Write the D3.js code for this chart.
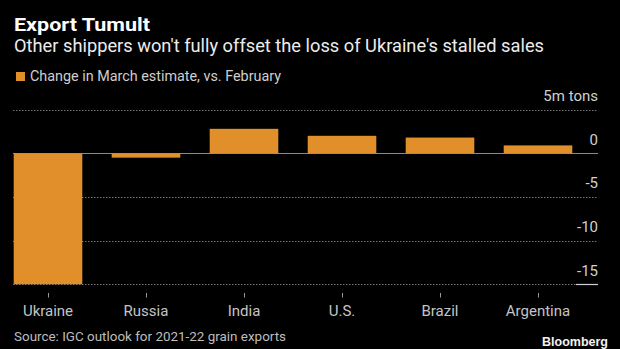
<!DOCTYPE html>
<html>
<head>
<meta charset="utf-8">
<script src="https://cdn.jsdelivr.net/npm/d3@7"></script>
<style>
  html, body { margin: 0; padding: 0; background: #000; }
  svg { display: block; font-family: Roboto, "Noto Sans", sans-serif; }
</style>
</head>
<body>
<div id="chart"></div>
<script>
let w = 620;
let h = 349;

// IGC grain export change, March estimate vs. February (million tons)
const countries = ['Ukraine', 'Russia', 'India', 'U.S.', 'Brazil', 'Argentina'];
const changes = [-15, -0.5, 2.8, 2.0, 1.8, 0.9];
const yTicks = [5, 0, -5, -10, -15];
const yTickLabels = ['5m tons', '0', '-5', '-10', '-15'];

const barColor = '#e08f2b';

let svg = d3.select('#chart')
    .append('svg')
    .attr('width', w)
    .attr('height', h);

svg.append('rect')
    .attr('width', w)
    .attr('height', h)
    .attr('fill', '#000');

// header
svg.append('text')
    .attr('x', 14)
    .attr('y', 31)
    .attr('fill', '#fff')
    .style('font-size', '18px')
    .style('font-weight', 'bold')
    .attr('textLength', 136)
    .attr('lengthAdjust', 'spacingAndGlyphs')
    .text('Export Tumult');

svg.append('text')
    .attr('x', 14)
    .attr('y', 52)
    .attr('fill', '#ececec')
    .style('font-size', '18px')
    .attr('textLength', 530)
    .attr('lengthAdjust', 'spacingAndGlyphs')
    .text("Other shippers won't fully offset the loss of Ukraine's stalled sales");

// legend
svg.append('rect')
    .attr('x', 16)
    .attr('y', 72)
    .attr('width', 9)
    .attr('height', 9)
    .attr('fill', barColor);

svg.append('text')
    .attr('x', 30)
    .attr('y', 81)
    .attr('fill', '#cfcfcf')
    .style('font-size', '14px')
    .attr('textLength', 251)
    .attr('lengthAdjust', 'spacingAndGlyphs')
    .text('Change in March estimate, vs. February');

let xScale = d3.scaleBand()
    .domain(countries)
    .range([-1, 587])
    .paddingInner(0.3)
    .paddingOuter(0.15);

let yScale = d3.scaleLinear()
    .domain([-15, 5])
    .range([284.3, 109.6]);

const gridLeft = 13;
const gridRight = 598;
const crisp = v => Math.round(v) + 0.5;

// gridlines
let grid = svg.append('g');
yTicks.forEach(t => {
    grid.append('line')
        .attr('x1', gridLeft)
        .attr('x2', gridRight)
        .attr('y1', crisp(yScale(t)))
        .attr('y2', crisp(yScale(t)))
        .attr('stroke', t === 0 ? '#8a8a8a' : '#777')
        .attr('stroke-width', 1)
        .attr('stroke-dasharray', t === 0 ? null : '1.5,1.5');
});

// tick labels sit just above their gridlines, right aligned
svg.append('g')
    .selectAll('text')
    .data(yTicks)
    .enter()
    .append('text')
    .attr('x', gridRight)
    .attr('y', d => yScale(d) - 8.5)
    .attr('text-anchor', 'end')
    .attr('fill', '#d0d0d0')
    .style('font-size', '15px')
    .text((d, i) => yTickLabels[i]);

// bars
svg.append('g')
    .selectAll('rect')
    .data(countries)
    .enter()
    .append('rect')
    .attr('x', d => xScale(d))
    .attr('width', xScale.bandwidth())
    .attr('y', (d, i) => yScale(Math.max(0, changes[i])))
    .attr('height', (d, i) => Math.abs(yScale(changes[i]) - yScale(0)))
    .attr('fill', barColor);

// short solid base under the lowest label
svg.append('line')
    .attr('x1', 576)
    .attr('x2', gridRight)
    .attr('y1', crisp(yScale(-15)))
    .attr('y2', crisp(yScale(-15)))
    .attr('stroke', '#cfcfcf')
    .attr('stroke-width', 1.2);

// category ticks and labels
let xAxis = svg.append('g');
xAxis.selectAll('line')
    .data(countries)
    .enter()
    .append('line')
    .attr('x1', d => crisp(xScale(d) + xScale.bandwidth() / 2))
    .attr('x2', d => crisp(xScale(d) + xScale.bandwidth() / 2))
    .attr('y1', 293)
    .attr('y2', 297.5)
    .attr('stroke', '#999');

xAxis.selectAll('text')
    .data(countries)
    .enter()
    .append('text')
    .attr('x', d => xScale(d) + xScale.bandwidth() / 2)
    .attr('y', 316)
    .attr('text-anchor', 'middle')
    .attr('fill', '#c4c4c4')
    .style('font-size', '15px')
    .text(d => d);

// footer
svg.append('text')
    .attr('x', 14)
    .attr('y', 341)
    .attr('fill', '#bdbdbd')
    .style('font-size', '13px')
    .attr('textLength', 272)
    .attr('lengthAdjust', 'spacingAndGlyphs')
    .text('Source: IGC outlook for 2021-22 grain exports');

svg.append('text')
    .attr('x', 608)
    .attr('y', 346)
    .attr('text-anchor', 'end')
    .attr('fill', '#f2f2f2')
    .style('font-family', '"Liberation Sans", Arial, sans-serif')
    .style('font-size', '12px')
    .style('font-weight', 'bold')
    .attr('textLength', 66)
    .attr('lengthAdjust', 'spacingAndGlyphs')
    .text('Bloomberg');
</script>
</body>
</html>
